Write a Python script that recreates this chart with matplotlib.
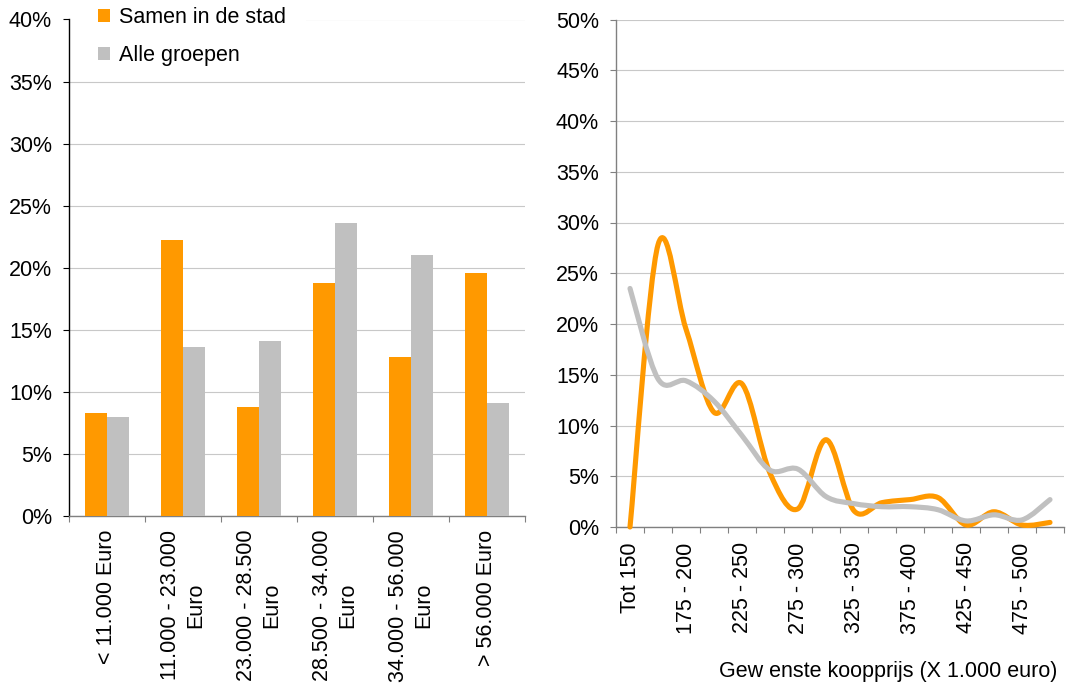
import matplotlib
matplotlib.use("Agg")
import matplotlib.pyplot as plt
from matplotlib.path import Path
from matplotlib.patches import PathPatch, Patch, Rectangle
from matplotlib.ticker import FuncFormatter, FixedLocator
import numpy as np

plt.rcParams['font.family'] = ['Liberation Sans', 'DejaVu Sans']

# ---- data -------------------------------------------------------------
income_groups = ["< 11.000 Euro", "11.000 - 23.000\nEuro", "23.000 - 28.500\nEuro",
                 "28.500 - 34.000\nEuro", "34.000 - 56.000\nEuro", "> 56.000 Euro"]
income_samen = [8.3, 22.2, 8.8, 18.8, 12.8, 19.6]
income_alle = [8.0, 13.6, 14.1, 23.6, 21.0, 9.1]

price_classes = ["Tot 150", "150 - 175", "175 - 200", "200 - 225", "225 - 250",
                 "250 - 275", "275 - 300", "300 - 325", "325 - 350", "350 - 375",
                 "375 - 400", "400 - 425", "425 - 450", "450 - 475", "475 - 500",
                 "Meer dan 500"]
price_samen = [0.0, 27.8, 19.5, 11.3, 14.1, 5.3, 1.8, 8.6, 1.6, 2.4, 2.7, 2.9,
               0.2, 1.5, 0.2, 0.45]
price_alle = [23.5, 14.6, 14.4, 12.4, 9.0, 5.6, 5.7, 3.0, 2.3, 2.0, 2.0, 1.7,
              0.6, 1.2, 0.7, 2.7]

legend_labels = ["Samen in de stad", "Alle groepen"]
x_title = "Gew enste koopprijs (X 1.000 euro)"

ORANGE = "#FF9900"
GREY = "#C0C0C0"
GRID = "#C8C8C8"
AXIS_GREY = "#808080"
FS = 15.5

W, H = 1069, 686
fig = plt.figure(figsize=(W / 100, H / 100), dpi=100)
pct = FuncFormatter(lambda v, _: f"{v:.0f}%")


def smooth_path(xs, ys):
    """Bezier path through the points, in the style of a smoothed chart line."""
    pts = np.column_stack([xs, ys]).astype(float)
    n = len(pts)
    verts = [pts[0]]
    codes = [Path.MOVETO]
    for i in range(n - 1):
        p_prev = pts[i - 1] if i > 0 else pts[i]
        p0, p1 = pts[i], pts[i + 1]
        p_next = pts[i + 2] if i + 2 < n else pts[i + 1]
        c1 = p0 + (p1 - p_prev) / 6.0
        c2 = p1 - (p_next - p0) / 6.0
        verts += [c1, c2, p1]
        codes += [Path.CURVE4] * 3
    return Path(verts, codes)


def style_axes(ax, ytop, ycolor):
    ax.set_ylim(0, ytop)
    ax.yaxis.set_major_locator(FixedLocator(np.arange(0, ytop + 0.1, 5)))
    ax.yaxis.set_major_formatter(pct)
    ax.grid(axis='y', color=GRID, linewidth=0.8)
    ax.set_axisbelow(True)
    for s in ("top", "right"):
        ax.spines[s].set_visible(False)
    ax.spines["left"].set_color(ycolor)
    ax.spines["bottom"].set_color(AXIS_GREY)
    ax.spines["left"].set_linewidth(1.0)
    ax.spines["bottom"].set_linewidth(1.0)
    ax.tick_params(axis='y', which='major', direction='out', length=4.3, width=0.8,
                   color=ycolor, labelsize=FS, pad=8)
    ax.tick_params(axis='x', which='major', direction='out', length=4.3, width=0.8,
                   color=AXIS_GREY, labelbottom=False)
    ax.tick_params(axis='x', which='minor', length=0, labelsize=FS, pad=10)


# ---- left: income groups (bars) -----------------------------------------
ax1 = fig.add_axes([69 / W, 1 - 516 / H, 456 / W, (516 - 19.5) / H])
xi = np.arange(len(income_groups))
bw = 0.29
ax1.bar(xi - bw / 2, income_samen, bw, color=ORANGE, zorder=3)
ax1.bar(xi + bw / 2, income_alle, bw, color=GREY, zorder=3)
ax1.set_xlim(-0.5, len(income_groups) - 0.5)
style_axes(ax1, 40, "#000000")
ax1.xaxis.set_major_locator(FixedLocator(np.arange(-0.5, len(income_groups), 1.0)))
ax1.xaxis.set_minor_locator(FixedLocator(xi))
ax1.set_xticks(xi, income_groups, minor=True, rotation=90, ha='center', va='top')
for t in ax1.get_xticklabels(minor=True):
    t.set_linespacing(1.3)

# white band behind the legend
ax1.add_patch(Rectangle((0, 0.985), (306 - 69) / 456, 0.05, transform=ax1.transAxes,
                        facecolor='white', edgecolor='none', zorder=2, clip_on=False))
handles = [Patch(facecolor=ORANGE), Patch(facecolor=GREY)]
fig.legend(handles, legend_labels, loc='upper left',
           bbox_to_anchor=(97.5 / W, 1 - 7 / H), frameon=False, fontsize=FS,
           handlelength=0.58, handleheight=0.58, handletextpad=0.42,
           labelspacing=0.8, borderpad=0, borderaxespad=0)

# ---- right: desired purchase price (smoothed lines) ---------------------
ax2 = fig.add_axes([616 / W, 1 - 527 / H, 448 / W, (527 - 19.5) / H])
xp = np.arange(len(price_classes))
for vals, col in ((price_samen, ORANGE), (price_alle, GREY)):
    ax2.add_patch(PathPatch(smooth_path(xp, vals), fill=False, edgecolor=col,
                            linewidth=3.7, capstyle='round', joinstyle='round',
                            zorder=3, clip_on=False))
ax2.set_xlim(-0.5, len(price_classes) - 0.5)
style_axes(ax2, 50, AXIS_GREY)
ax2.xaxis.set_major_locator(FixedLocator(np.arange(-0.5, len(price_classes), 1.0)))
shown = xp[::2]
ax2.set_xticks(shown, [price_classes[i] for i in shown], minor=True,
               rotation=90, ha='center', va='top')
ax2.tick_params(axis='x', which='minor', pad=11)

fig.text(1057 / W, 1 - 672 / H, x_title, ha='right', va='center', fontsize=FS)

fig.savefig("out.png", dpi=100)
